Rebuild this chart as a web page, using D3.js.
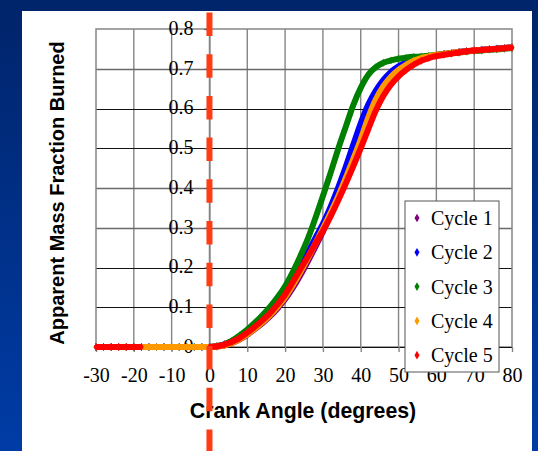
<!DOCTYPE html>
<html>
<head>
<meta charset="utf-8">
<script src="https://cdn.jsdelivr.net/npm/d3@7"></script>
<style>
  html, body { margin: 0; padding: 0; background: #002a72; }
  svg { display: block; }
</style>
</head>
<body>
<svg id="chart" width="538" height="451"></svg>
<script>
// Crank angle samples (degrees)
const angles = [-30,-28,-26,-24,-22,-20,-18,-16,-14,-12,-10,-8,-6,-4,-2,
  0,2,4,6,8,10,12,14,16,18,20,22,24,26,28,30,32,34,36,38,40,
  42,44,46,48,50,52,54,56,58,60,62,64,66,68,70,72,74,76,78,80];

// Apparent mass fraction burned for each cycle (null = no sample)
const cycle1 = [0,0,0,0,0,0,0,0,0,0,0,0,0,0,0,
  0,0.001,0.004,0.010,0.019,0.031,0.045,0.060,0.077,0.097,0.120,0.148,0.180,0.215,0.252,0.290,0.332,0.374,0.418,0.465,0.515,
  0.565,0.612,0.648,0.674,0.692,0.705,0.716,0.724,0.730,0.734,0.737,0.740,0.742,0.744,0.746,0.748,0.749,0.750,0.752,0.754];
const cycle2 = [0,0,0,0,0,0,0,0,0,0,0,0,0,0,0,
  0,0.002,0.007,0.015,0.027,0.041,0.056,0.073,0.092,0.113,0.137,0.166,0.200,0.237,0.274,0.310,0.352,0.400,0.452,0.508,0.563,
  0.610,0.645,0.672,0.692,0.706,0.716,0.723,0.728,0.731,0.734,0.737,0.739,0.742,0.744,0.746,0.748,0.749,0.751,0.752,0.754];
const cycle3 = [0,0,0,0,0,0,0,0,0,0,0,0,0,0,0,
  0,0.002,0.007,0.016,0.029,0.044,0.061,0.080,0.101,0.125,0.153,0.188,0.228,0.272,0.324,0.380,0.437,0.497,0.553,0.608,0.652,
  0.685,0.704,0.715,0.721,0.725,0.728,0.730,0.731,0.733,0.735,0.737,0.739,0.741,0.743,0.745,0.746,0.748,0.749,0.750,0.752];
const cycle4 = [0,0,0,0,0,0,0,0,0,0,0,0,0,0,0,
  0,0.001,0.004,0.010,0.020,0.032,0.046,0.062,0.080,0.101,0.125,0.155,0.188,0.223,0.260,0.298,0.337,0.378,0.424,0.472,0.522,
  0.577,0.623,0.656,0.680,0.697,0.710,0.720,0.727,0.731,0.735,0.737,0.740,0.742,0.744,0.746,0.748,0.749,0.750,0.752,0.754];
const cycle5 = [0,0,0,0,0,0,0,null,null,null,null,null,null,null,null,
  0,0.002,0.006,0.013,0.023,0.036,0.051,0.067,0.085,0.107,0.132,0.163,0.195,0.227,0.260,0.292,0.328,0.368,0.410,0.454,0.500,
  0.548,0.595,0.632,0.660,0.681,0.697,0.710,0.720,0.727,0.732,0.735,0.738,0.741,0.744,0.746,0.747,0.749,0.750,0.752,0.753];

const seriesNames = ["Cycle 1", "Cycle 2", "Cycle 3", "Cycle 4", "Cycle 5"];
const seriesValues = [cycle1, cycle2, cycle3, cycle4, cycle5];
const seriesColors = ["#800080", "#0000ff", "#008000", "#ff9900", "#ff0000"];

const xTicks = [-30,-20,-10,0,10,20,30,40,50,60,70,80];
const yTicks = [0,0.1,0.2,0.3,0.4,0.5,0.6,0.7,0.8];

const xTitle = "Crank Angle (degrees)";
const yTitle = "Apparent Mass Fraction Burned";

const svg = d3.select("#chart");
const W = 538, H = 451;
const plot = { left: 96, right: 512, top: 29, bottom: 347 };

const x = d3.scaleLinear().domain([-30, 80]).range([plot.left, plot.right]);
const y = d3.scaleLinear().domain([0, 0.8]).range([plot.bottom, plot.top]);

// Slide background
const defs = svg.append("defs");
const grad = defs.append("linearGradient").attr("id", "bg")
  .attr("x1", 0).attr("y1", 0).attr("x2", 0).attr("y2", 1);
grad.append("stop").attr("offset", "0%").attr("stop-color", "#00246a");
grad.append("stop").attr("offset", "100%").attr("stop-color", "#003ca6");
svg.append("rect").attr("width", W).attr("height", H).attr("fill", "url(#bg)");

// White chart panel
svg.append("rect").attr("x", 22).attr("y", 11).attr("width", 510).attr("height", H - 11)
  .attr("fill", "#ffffff");

const serif = "'Liberation Serif', 'Times New Roman', serif";
const sans = "'Liberation Sans', Arial, sans-serif";

// Vertical gridlines
svg.append("g").selectAll("line").data(xTicks.slice(1, -1)).join("line")
  .attr("x1", d => x(d)).attr("x2", d => x(d))
  .attr("y1", plot.top).attr("y2", plot.bottom)
  .attr("stroke", "#858585").attr("stroke-width", 1.4);

// Horizontal gridlines
const darkRows = new Set([0.1, 0.2, 0.5, 0.6]);
svg.append("g").selectAll("line").data(yTicks.slice(1, -1)).join("line")
  .attr("x1", plot.left).attr("x2", plot.right)
  .attr("y1", d => Math.round(y(d)) + 0.5).attr("y2", d => Math.round(y(d)) + 0.5)
  .attr("stroke", d => darkRows.has(d) ? "#111" : "#6a6a6a")
  .attr("stroke-width", d => darkRows.has(d) ? 1 : 1.4);

// Plot frame
svg.append("rect")
  .attr("x", plot.left).attr("y", plot.top)
  .attr("width", plot.right - plot.left).attr("height", plot.bottom - plot.top)
  .attr("fill", "none").attr("stroke", "#858585").attr("stroke-width", 1.5);

// X axis along y = 0
const xAxis = d3.axisBottom(x).tickValues(xTicks).tickSize(5).tickPadding(16)
  .tickFormat(d => String(d));
const gx = svg.append("g").attr("transform", `translate(0,${y(0)})`).call(xAxis);
gx.select(".domain").attr("stroke", "#111").attr("stroke-width", 1);
gx.selectAll(".tick line").attr("stroke", "#858585").attr("stroke-width", 1.4);
gx.selectAll(".tick text").attr("font-family", serif).attr("font-size", 20).attr("fill", "#000");

// Y axis along x = 0
const yAxis = d3.axisLeft(y).tickValues(yTicks).tickSize(5).tickPadding(11)
  .tickFormat(d => d === 0 ? "0" : d3.format(".1f")(d));
const gy = svg.append("g").attr("transform", `translate(${x(0)},0)`).call(yAxis);
gy.select(".domain").attr("stroke", "#858585").attr("stroke-width", 1.4);
gy.selectAll(".tick line").attr("stroke", "#555");
gy.selectAll(".tick text").attr("font-family", serif).attr("font-size", 20)
  .attr("fill", "#000").attr("dy", "0.27em");

// Data series: dense markers joined by a thick trace
const line = d3.line()
  .defined(d => d.v !== null)
  .x(d => x(d.a)).y(d => y(d.v))
  .curve(d3.curveMonotoneX);
const diamond = d3.symbol().type(d3.symbolDiamond).size(18);

seriesValues.forEach((vals, i) => {
  const pts = angles.map((a, k) => ({ a, v: vals[k] }));
  const g = svg.append("g");
  g.append("path").datum(pts).attr("d", line)
    .attr("fill", "none").attr("stroke", seriesColors[i]).attr("stroke-width", 6)
    .attr("stroke-linejoin", "round");
  g.selectAll("path.pt").data(pts.filter(d => d.v !== null)).join("path")
    .attr("class", "pt")
    .attr("transform", d => `translate(${x(d.a)},${y(d.v)})`)
    .attr("d", diamond).attr("fill", seriesColors[i]);
});

// Axis titles
svg.append("text").attr("x", (plot.left + plot.right) / 2 - 1).attr("y", 418)
  .attr("text-anchor", "middle").attr("font-family", sans).attr("font-weight", "bold")
  .attr("font-size", 21.3).attr("fill", "#000").text(xTitle);
svg.append("text").attr("transform", `translate(64,${(plot.top + plot.bottom) / 2 + 5}) rotate(-90)`)
  .attr("text-anchor", "middle").attr("font-family", sans).attr("font-weight", "bold")
  .attr("font-size", 20).attr("fill", "#000").text(yTitle);

// Legend
const legend = svg.append("g").attr("transform", "translate(405,201)");
legend.append("rect").attr("width", 94).attr("height", 171)
  .attr("fill", "#fff").attr("stroke", "#555").attr("stroke-width", 1);
const rows = legend.selectAll("g.row").data(seriesNames).join("g")
  .attr("class", "row")
  .attr("transform", (d, i) => `translate(0,${17 + i * 34.3})`);
rows.append("path").attr("transform", "translate(12,0)")
  .attr("d", d3.symbol().type(d3.symbolDiamond).size(22))
  .attr("fill", (d, i) => seriesColors[i]);
rows.append("text").attr("x", 26).attr("y", 7)
  .attr("font-family", serif).attr("font-size", 20).attr("fill", "#000").text(d => d);

// Top dead centre marker
svg.append("line")
  .attr("x1", x(0)).attr("x2", x(0)).attr("y1", 12.5).attr("y2", H)
  .attr("stroke", "#ff3c14").attr("stroke-width", 6)
  .attr("stroke-dasharray", "23.5 18.2");
</script>
</body>
</html>
